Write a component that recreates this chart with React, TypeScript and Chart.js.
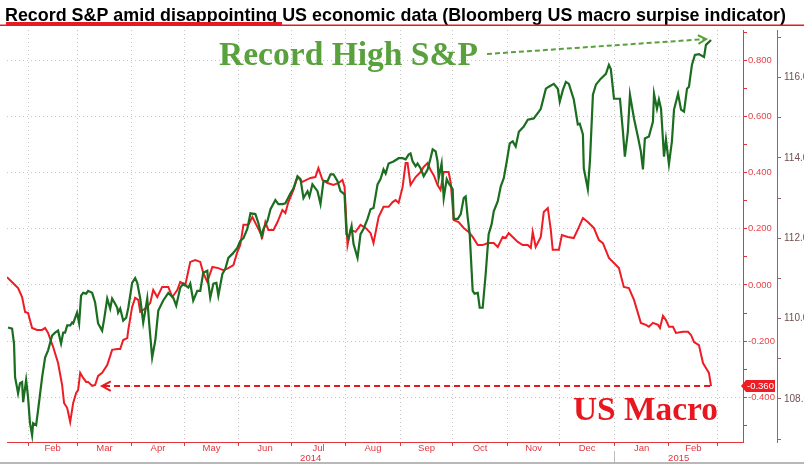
import React, { useEffect, useRef } from 'react';
import { Chart, registerables } from 'chart.js';

Chart.register(...registerables);

const TITLE = 'Record S&P amid disappointing US economic data (Bloomberg US macro surpise indicator)';
const SPX_NOTE = 'Record High S&P';
const MACRO_NOTE = 'US Macro';

// x values are days since 2014-01-01
const spxDays = [
  19.6, 21.9, 23.0, 23.6, 24.7, 25.3, 26.4, 27.6, 28.2, 29.9, 31.0, 32.1, 33.3, 33.9, 35.6, 36.7, 39.0, 40.7, 42.4, 44.7,
  46.4, 48.1, 49.8, 51.0, 52.1, 53.3, 55.0, 56.1, 56.7, 58.9, 60.1, 61.2, 62.4, 64.1, 65.2, 67.5, 69.2, 70.9, 73.2, 74.4,
  76.1, 77.8, 78.9, 80.6, 81.8, 82.3, 83.5, 85.2, 86.9, 88.1, 90.3, 92.0, 93.2, 94.9, 96.6, 97.8, 98.9, 100.0, 101.7, 103.5,
  105.2, 108.0, 110.9, 113.7, 115.4, 117.7, 119.4, 122.3, 123.4, 125.1, 127.4, 129.1, 130.8, 133.1, 133.7, 134.8, 136.6, 138.3, 139.4, 141.7,
  143.4, 145.1, 147.4, 150.2, 151.9, 153.7, 155.9, 157.7, 160.5, 162.2, 164.0, 165.1, 167.4, 169.1, 171.9, 173.6, 175.9, 177.6, 180.5, 182.2,
  184.5, 186.2, 187.9, 190.2, 191.3, 193.0, 194.7, 195.9, 197.6, 199.3, 201.6, 203.3, 205.0, 207.3, 209.0, 211.3, 212.4, 213.6, 215.3, 216.4,
  218.7, 220.4, 222.1, 224.4, 226.1, 227.8, 230.1, 231.8, 233.5, 234.7, 236.4, 239.2, 242.1, 244.4, 246.1, 247.8, 248.9, 250.1, 251.8, 252.9,
  254.6, 256.4, 258.6, 260.3, 261.5, 263.2, 264.3, 264.9, 266.6, 267.8, 269.5, 270.6, 272.9, 273.5, 275.8, 277.5, 279.2, 280.3, 281.5, 282.6,
  284.3, 285.4, 287.2, 288.3, 290.0, 291.7, 293.4, 295.1, 296.3, 298.6, 300.3, 302.0, 303.7, 305.4, 307.1, 308.8, 310.6, 313.4, 315.7, 319.1,
  322.0, 323.1, 326.0, 327.7, 330.5, 332.8, 333.9, 335.7, 337.4, 339.1, 341.9, 344.2, 345.3, 347.1, 347.6, 349.9, 351.1, 352.8, 354.5, 357.3,
  360.2, 361.9, 363.0, 364.8, 368.2, 369.9, 371.0, 372.7, 373.9, 376.2, 378.4, 380.1, 381.3, 382.4, 384.7, 387.0, 387.6, 389.3, 390.4, 391.6,
  393.3, 394.4, 396.1, 397.8, 399.0, 401.3, 403.0, 404.7, 406.4, 407.5, 409.2, 410.9, 413.2, 416.1, 417.2, 418.4, 420.1,
];
const spxValues = [
  109.78, 109.75, 109.38, 108.54, 108.29, 108.14, 108.39, 108.42, 107.92, 108.47, 108.04, 107.40, 107.10, 107.40, 107.35, 107.72, 108.54, 109.03, 109.21, 109.58,
  109.65, 109.70, 109.38, 109.65, 109.65, 109.83, 109.83, 109.90, 109.88, 110.15, 109.88, 110.57, 110.64, 110.62, 110.69, 110.64, 110.40, 109.88, 109.70, 110.00,
  110.50, 110.25, 110.50, 110.37, 110.27, 110.15, 110.25, 109.95, 110.02, 110.27, 110.89, 111.01, 110.89, 110.50, 109.90, 110.20, 110.50, 109.88, 109.03, 109.46,
  110.20, 110.45, 110.64, 110.52, 110.32, 110.77, 110.87, 110.77, 110.87, 110.45, 110.69, 110.69, 111.14, 111.19, 110.89, 110.52, 110.87, 110.89, 110.57, 111.11,
  111.24, 111.51, 111.61, 111.76, 111.93, 112.00, 112.23, 112.62, 112.60, 112.38, 112.05, 112.23, 112.43, 112.72, 112.95, 112.85, 112.85, 112.87, 113.12, 113.24,
  113.54, 113.47, 113.00, 113.17, 113.04, 113.34, 113.24, 113.17, 112.85, 113.42, 113.42, 113.59, 113.59, 113.42, 113.17, 113.09, 112.10, 112.00, 112.30, 111.86,
  111.51, 112.10, 112.23, 112.48, 112.72, 112.75, 113.34, 113.47, 113.71, 113.61, 113.86, 113.91, 113.99, 113.99, 113.96, 114.08, 114.11, 113.91, 113.79, 113.86,
  113.74, 113.54, 113.71, 113.99, 114.21, 114.16, 113.91, 113.49, 113.86, 113.00, 113.47, 113.37, 113.22, 112.48, 112.48, 112.60, 113.00, 113.04, 112.50, 112.10,
  110.69, 110.62, 110.64, 110.27, 110.27, 111.11, 112.10, 112.35, 112.67, 112.92, 113.29, 113.49, 113.91, 114.36, 114.41, 114.28, 114.65, 114.78, 114.95, 114.98,
  115.15, 115.22, 115.72, 115.77, 115.84, 115.72, 115.40, 115.69, 115.89, 115.84, 115.45, 114.83, 114.85, 114.58, 113.74, 113.22, 113.91, 115.57, 115.82, 115.97,
  116.09, 116.31, 116.21, 115.47, 115.47, 114.65, 114.03, 114.65, 115.57, 114.98, 114.53, 114.16, 113.71, 114.48, 114.53, 114.90, 115.59, 115.22, 115.45, 115.22,
  114.03, 114.46, 113.84, 114.41, 115.20, 115.59, 115.20, 115.15, 115.72, 115.77, 116.31, 116.56, 116.58, 116.51, 116.81, 116.86, 116.93,
];

const macroDays = [
  19.0, 22.4, 25.3, 27.6, 29.3, 31.0, 33.3, 36.1, 39.0, 40.7, 42.4, 45.3, 48.1, 50.4, 51.5, 53.3, 55.0, 56.7, 58.4, 59.5,
  60.7, 62.4, 64.1, 65.2, 67.5, 69.2, 70.9, 73.2, 76.1, 78.9, 81.8, 83.5, 85.2, 87.5, 88.1, 90.3, 92.0, 93.8, 94.9, 96.6,
  98.9, 100.6, 102.3, 104.6, 107.4, 110.9, 113.2, 116.0, 117.7, 120.6, 123.4, 126.3, 129.1, 130.8, 133.1, 136.0, 139.4, 142.3, 145.1, 148.0,
  150.2, 151.9, 153.7, 156.5, 158.8, 161.7, 164.5, 166.2, 167.9, 170.8, 173.1, 175.9, 177.6, 179.3, 182.2, 184.5, 187.3, 191.9, 194.7, 196.4,
  198.7, 201.6, 205.0, 207.9, 210.1, 211.3, 213.0, 214.7, 217.6, 220.4, 223.3, 226.1, 227.8, 230.7, 233.5, 236.4, 238.7, 240.4, 242.1, 244.4,
  246.1, 247.2, 248.9, 251.8, 254.6, 256.4, 258.6, 260.3, 262.1, 264.3, 266.0, 267.8, 270.6, 271.8, 273.5, 276.3, 279.2, 282.0, 284.3, 287.2,
  290.0, 292.9, 296.3, 298.6, 301.4, 303.1, 304.8, 307.1, 310.0, 312.8, 315.7, 317.4, 318.5, 320.2, 323.1, 324.8, 327.1, 328.8, 329.9, 333.4,
  335.1, 338.5, 341.9, 344.8, 347.1, 349.9, 353.3, 356.2, 358.5, 361.9, 364.8, 367.6, 370.4, 373.3, 376.2, 380.1, 383.0, 384.7, 387.0, 389.9,
  391.0, 392.7, 394.4, 396.1, 398.4, 400.1, 404.1, 407.0, 408.7, 410.4, 413.2, 415.5, 417.8, 418.9, 420.1,
];
const macroValues = [
  0.028, 0.007, -0.011, -0.043, -0.096, -0.100, -0.153, -0.160, -0.160, -0.153, -0.171, -0.221, -0.278, -0.356, -0.420, -0.438, -0.488, -0.420, -0.384, -0.374,
  -0.313, -0.331, -0.345, -0.345, -0.359, -0.356, -0.324, -0.313, -0.285, -0.231, -0.228, -0.228, -0.196, -0.189, -0.160, -0.078, -0.046, -0.053, -0.096, -0.089,
  -0.078, -0.064, -0.018, -0.043, -0.007, -0.007, -0.043, -0.018, 0.011, 0.000, 0.082, 0.089, 0.082, 0.043, 0.011, 0.064, 0.060, 0.053, 0.060, 0.071,
  0.117, 0.142, 0.214, 0.214, 0.242, 0.206, 0.171, 0.224, 0.196, 0.196, 0.224, 0.267, 0.256, 0.295, 0.338, 0.384, 0.367, 0.381, 0.384, 0.416,
  0.374, 0.363, 0.356, 0.363, 0.374, 0.349, 0.142, 0.196, 0.189, 0.214, 0.203, 0.185, 0.149, 0.242, 0.278, 0.278, 0.295, 0.302, 0.292, 0.349,
  0.434, 0.434, 0.356, 0.384, 0.402, 0.420, 0.434, 0.409, 0.391, 0.356, 0.338, 0.402, 0.402, 0.363, 0.231, 0.224, 0.203, 0.189, 0.171, 0.142,
  0.142, 0.149, 0.149, 0.135, 0.171, 0.167, 0.185, 0.171, 0.153, 0.142, 0.142, 0.132, 0.189, 0.135, 0.171, 0.260, 0.274, 0.196, 0.125, 0.125,
  0.178, 0.171, 0.167, 0.206, 0.238, 0.224, 0.203, 0.160, 0.149, 0.096, 0.078, 0.060, -0.007, -0.011, -0.053, -0.135, -0.142, -0.149, -0.135, -0.142,
  -0.153, -0.110, -0.125, -0.149, -0.149, -0.171, -0.167, -0.167, -0.178, -0.203, -0.214, -0.278, -0.302, -0.313, -0.360,
];

const monthStartDays = [31, 59, 90, 120, 151, 181, 212, 243, 273, 304, 334, 365, 396, 424];
const monthNames = ['Feb', 'Mar', 'Apr', 'May', 'Jun', 'Jul', 'Aug', 'Sep', 'Oct', 'Nov', 'Dec', 'Jan', 'Feb'];
const yearNames = ['2014', '2015'];
const yearStartDays = [0, 365];
const macroMajorTicks = [-0.4, -0.2, 0, 0.2, 0.4, 0.6, 0.8];
const macroMinorTicks = [-0.5, -0.3, -0.1, 0.1, 0.3, 0.5, 0.7, 0.9];
const spxMajorTicks = [108, 110, 112, 114, 116];
const spxMinorTicks = [107, 109, 111, 113, 115, 117];
const lastMacroLabel = '-0.360';

const X_MIN = 19;
const X_MAX = 438.3;
const MACRO_MIN = -0.559;
const MACRO_MAX = 0.9075;
const SPX_MIN = 106.93;
const SPX_MAX = 117.18;

const RED_LINE = '#ee1c25';
const GREEN_LINE = '#1b6d1f';
const AXIS_RED = '#e2353c';
const GRID = '#c4c4c4';
const SPX_AXIS = '#8a6a6a';
const SPX_TEXT = '#6f5050';
const NOTE_GREEN = '#58a13c';
const NOTE_RED = '#e8161e';
const CLEAR = 'rgba(0,0,0,0)';
const SANS = '"Liberation Sans", Arial, sans-serif';
const SERIF = '"Liberation Serif", "Times New Roman", serif';

const monthMid = monthStartDays.slice(0, -1).map((d, i) => (d + monthStartDays[i + 1]) / 2);
const xTickValues = [...monthStartDays, ...monthMid].sort((a, b) => a - b);
const near = (a: number, b: number) => Math.abs(a - b) < 1e-6;
const isMonthStart = (v: number) => monthStartDays.some((m) => near(m, v));
const monthLabel = (v: number) => {
  const i = monthMid.findIndex((m) => near(m, v));
  return i >= 0 ? monthNames[i] : '';
};

function drawArrow(ctx: CanvasRenderingContext2D, x1: number, y1: number, x2: number, y2: number,
  color: string, width: number, dash: number[], head: number) {
  ctx.save();
  ctx.strokeStyle = color;
  ctx.lineWidth = width;
  ctx.setLineDash(dash);
  ctx.beginPath();
  ctx.moveTo(x1, y1);
  ctx.lineTo(x2, y2);
  ctx.stroke();
  ctx.setLineDash([]);
  const a = Math.atan2(y2 - y1, x2 - x1);
  ctx.beginPath();
  ctx.moveTo(x2 - head * Math.cos(a - 0.5), y2 - head * Math.sin(a - 0.5));
  ctx.lineTo(x2, y2);
  ctx.lineTo(x2 - head * Math.cos(a + 0.5), y2 - head * Math.sin(a + 0.5));
  ctx.stroke();
  ctx.restore();
}

function fitText(ctx: CanvasRenderingContext2D, text: string, family: string, width: number) {
  ctx.font = `bold 100px ${family}`;
  const w = ctx.measureText(text).width;
  return (100 * width) / w;
}

const decorPlugin = {
  id: 'decor',
  beforeDraw(chart: any) {
    const ctx = chart.ctx as CanvasRenderingContext2D;
    ctx.save();
    ctx.fillStyle = '#ffffff';
    ctx.fillRect(0, 0, chart.width, chart.height);
    ctx.restore();
  },
  afterDraw(chart: any) {
    const ctx = chart.ctx as CanvasRenderingContext2D;
    const xs = chart.scales.x;
    const ym = chart.scales.yMacro;
    const ysp = chart.scales.ySpx;
    ctx.save();

    // Title
    ctx.font = `bold 19px ${SANS}`;
    ctx.fillStyle = '#000000';
    ctx.textBaseline = 'alphabetic';
    ctx.textAlign = 'left';
    const tw = ctx.measureText(TITLE).width;
    ctx.save();
    ctx.translate(5, 20.5);
    ctx.scale(781 / tw, 1);
    ctx.fillText(TITLE, 0, 0);
    ctx.restore();
    ctx.fillStyle = '#e41b23';
    ctx.fillRect(0, 24.5, chart.width, 1.5);
    ctx.fillRect(6, 22, 276, 4);

    // Year labels and separator
    ctx.font = `9.5px ${SANS}`;
    ctx.fillStyle = AXIS_RED;
    ctx.textAlign = 'center';
    ctx.textBaseline = 'middle';
    yearNames.forEach((name, i) => {
      const s = Math.max(yearStartDays[i], xs.min);
      const e = i + 1 < yearStartDays.length ? yearStartDays[i + 1] : xs.max;
      const cx = (xs.getPixelForValue(s) + xs.getPixelForValue(e)) / 2;
      ctx.fillText(name, cx, 458);
    });
    ctx.strokeStyle = '#bdbdbd';
    ctx.lineWidth = 1;
    for (let i = 1; i < yearStartDays.length; i++) {
      const px = Math.round(xs.getPixelForValue(yearStartDays[i])) + 0.5;
      ctx.beginPath();
      ctx.moveTo(px, 451);
      ctx.lineTo(px, 462);
      ctx.stroke();
    }
    ctx.strokeStyle = '#a0a0a0';
    ctx.lineWidth = 1.5;
    ctx.beginPath();
    ctx.moveTo(0, 463);
    ctx.lineTo(chart.width, 463);
    ctx.stroke();

    // Annotations
    const lastSpxX = xs.getPixelForValue(spxDays[spxDays.length - 1]);
    const lastSpxY = ysp.getPixelForValue(spxValues[spxValues.length - 1]);
    const lastMacX = xs.getPixelForValue(macroDays[macroDays.length - 1]);
    const lastMacY = ym.getPixelForValue(macroValues[macroValues.length - 1]);

    const gSize = fitText(ctx, SPX_NOTE, SERIF, 259);
    ctx.font = `bold ${gSize}px ${SERIF}`;
    ctx.fillStyle = NOTE_GREEN;
    ctx.textAlign = 'left';
    ctx.textBaseline = 'alphabetic';
    ctx.fillText(SPX_NOTE, 219, 65);
    drawArrow(ctx, 487, 54, lastSpxX - 5, lastSpxY - 1, NOTE_GREEN, 2, [5, 3], 9);

    const rSize = fitText(ctx, MACRO_NOTE, SERIF, 145);
    ctx.font = `bold ${rSize}px ${SERIF}`;
    ctx.fillStyle = NOTE_RED;
    ctx.textAlign = 'left';
    ctx.textBaseline = 'alphabetic';
    ctx.fillText(MACRO_NOTE, 573, 420);
    drawArrow(ctx, lastMacX - 1, lastMacY, 102, lastMacY, NOTE_RED, 2, [6, 4], 10);

    // Last value tag on macro axis
    const bx = ym.left - 2;
    ctx.fillStyle = '#ee1c24';
    ctx.beginPath();
    ctx.moveTo(bx, lastMacY);
    ctx.lineTo(bx + 5, lastMacY - 6);
    ctx.lineTo(bx + 34, lastMacY - 6);
    ctx.lineTo(bx + 34, lastMacY + 6);
    ctx.lineTo(bx + 5, lastMacY + 6);
    ctx.closePath();
    ctx.fill();
    ctx.font = `9.5px ${SANS}`;
    ctx.fillStyle = '#ffffff';
    ctx.textAlign = 'left';
    ctx.textBaseline = 'middle';
    ctx.fillText(lastMacroLabel, bx + 6, lastMacY + 0.5);

    ctx.restore();
  },
};

export default function App() {
  const canvasRef = useRef<HTMLCanvasElement | null>(null);

  useEffect(() => {
    if (!canvasRef.current) return;
    const chart = new Chart(canvasRef.current, {
      type: 'line',
      data: {
        datasets: [
          {
            label: 'S&P',
            data: spxDays.map((d, i) => ({ x: d, y: spxValues[i] })),
            yAxisID: 'ySpx',
            borderColor: GREEN_LINE,
            borderWidth: 2.2,
            pointRadius: 0,
            tension: 0,
            order: 1,
          },
          {
            label: 'US Macro',
            data: macroDays.map((d, i) => ({ x: d, y: macroValues[i] })),
            yAxisID: 'yMacro',
            borderColor: RED_LINE,
            borderWidth: 2,
            pointRadius: 0,
            tension: 0,
            order: 2,
          },
        ],
      },
      options: {
        responsive: false,
        devicePixelRatio: 1,
        animation: false,
        layout: { padding: { top: 30, left: 7, right: 0, bottom: 0 } },
        plugins: { legend: { display: false }, tooltip: { enabled: false }, title: { display: false } },
        scales: {
          x: {
            type: 'linear',
            position: 'bottom',
            min: X_MIN,
            max: X_MAX,
            afterBuildTicks: (s: any) => {
              s.ticks = xTickValues.map((v) => ({ value: v }));
            },
            afterFit: (s: any) => {
              s.height = 23;
            },
            ticks: {
              autoSkip: false,
              maxRotation: 0,
              minRotation: 0,
              padding: -3,
              color: AXIS_RED,
              font: { family: SANS, size: 9.5 },
              callback: (v: any) => monthLabel(Number(v)),
            },
            grid: {
              color: (c: any) => (c.tick && isMonthStart(c.tick.value) ? GRID : CLEAR),
              tickColor: (c: any) => (c.tick && isMonthStart(c.tick.value) ? AXIS_RED : CLEAR),
              tickLength: 4,
              lineWidth: 1,
              tickBorderDash: [],
            },
            border: { color: AXIS_RED, width: 1, dash: [1, 3] },
          },
          yMacro: {
            type: 'linear',
            position: 'right',
            weight: 0,
            min: MACRO_MIN,
            max: MACRO_MAX,
            afterBuildTicks: (s: any) => {
              s.ticks = [...macroMajorTicks, ...macroMinorTicks].sort((a, b) => a - b).map((v) => ({ value: v }));
            },
            afterFit: (s: any) => {
              s.width = 34;
            },
            ticks: {
              padding: 1,
              color: '#e8434a',
              font: { family: SANS, size: 9.5 },
              callback: (v: any) => (macroMajorTicks.some((m) => near(m, Number(v))) ? Number(v).toFixed(3) : ''),
            },
            grid: {
              color: (c: any) => (c.tick && macroMajorTicks.some((m) => near(m, c.tick.value)) ? GRID : CLEAR),
              tickColor: AXIS_RED,
              tickLength: 4,
              lineWidth: 1,
              tickBorderDash: [],
            },
            border: { color: AXIS_RED, width: 1, dash: [1, 3] },
          },
          ySpx: {
            type: 'linear',
            position: 'right',
            weight: 1,
            min: SPX_MIN,
            max: SPX_MAX,
            afterBuildTicks: (s: any) => {
              s.ticks = [...spxMajorTicks, ...spxMinorTicks].sort((a, b) => a - b).map((v) => ({ value: v }));
            },
            afterFit: (s: any) => {
              s.width = 27;
            },
            ticks: {
              padding: 3,
              color: SPX_TEXT,
              font: { family: SANS, size: 10 },
              callback: (v: any) => (spxMajorTicks.some((m) => near(m, Number(v))) ? Number(v).toFixed(1) : ''),
            },
            grid: {
              drawOnChartArea: false,
              color: SPX_AXIS,
              tickColor: SPX_AXIS,
              tickLength: 4,
              lineWidth: 1,
              tickBorderDash: [],
            },
            border: { color: SPX_AXIS, width: 1 },
          },
        },
      } as any,
      plugins: [decorPlugin],
    });
    return () => chart.destroy();
  }, []);

  return (
    <div style={{ position: 'fixed', left: 0, top: 0, width: 804, height: 465, background: '#ffffff' }}>
      <canvas ref={canvasRef} width={804} height={465} style={{ display: 'block', width: 804, height: 465 }} />
    </div>
  );
}
